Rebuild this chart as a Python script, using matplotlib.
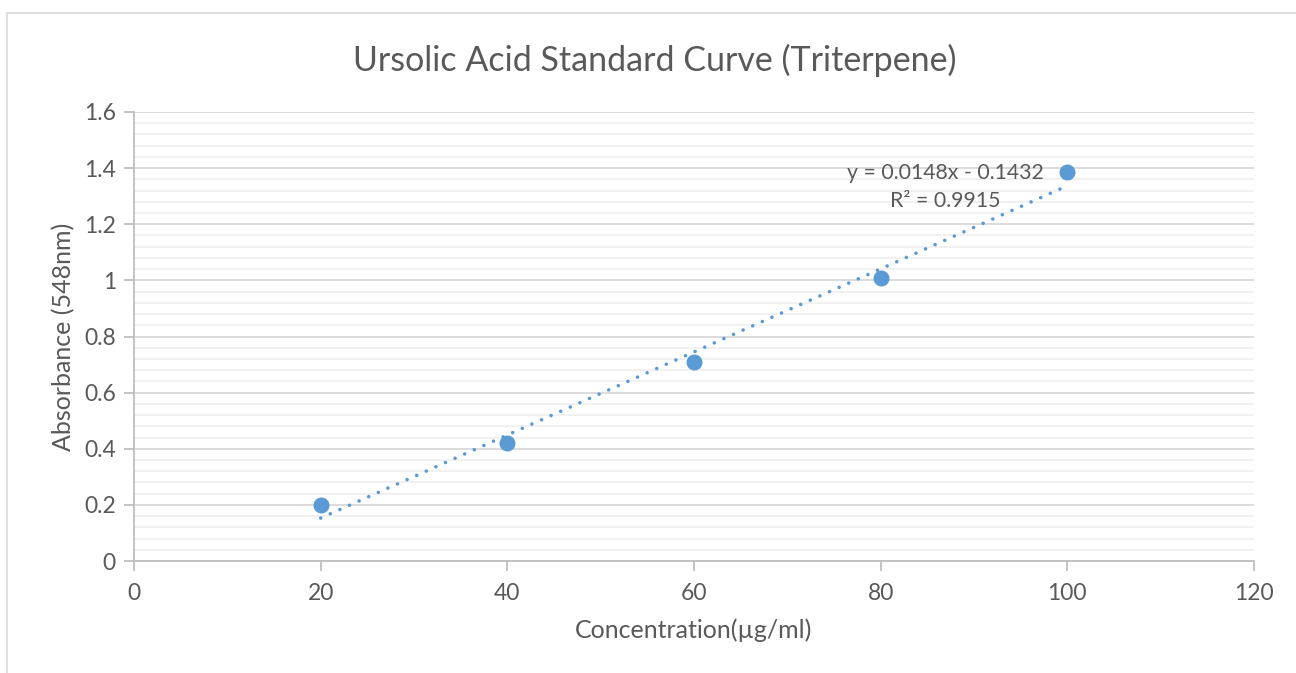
import matplotlib
matplotlib.use('Agg')
import matplotlib.pyplot as plt
import numpy as np
from matplotlib.patches import Rectangle
from matplotlib.ticker import MultipleLocator, FuncFormatter

plt.rcParams['font.family'] = ['Lato', 'DejaVu Sans']

concentration = [20, 40, 60, 80, 100]
absorbance = [0.2, 0.42, 0.71, 1.01, 1.385]

title = 'Ursolic Acid Standard Curve (Triterpene)'
xlabel = 'Concentration(µg/ml)'
ylabel = 'Absorbance (548nm)'
equation = 'y = 0.0148x - 0.1432'
r_squared = 'R² = 0.9915'

text_col = '#595959'
blue = '#5B9BD5'


def main():
    fig = plt.figure(figsize=(12.96, 6.73), dpi=100)
    ax = fig.add_axes([134 / 1296, 1 - 561 / 673, 1120 / 1296, 449 / 673])

    # chart border (cut off at right and bottom)
    fig.patches.append(Rectangle((7 / 1296, -0.05), 1.2, 1 - 13 / 673 + 0.05,
                                 transform=fig.transFigure, fill=False,
                                 edgecolor='#d9d9d9', linewidth=1.2))

    # linear trendline
    slope, intercept = np.polyfit(concentration, absorbance, 1)
    xs = np.array([concentration[0], concentration[-1]])
    ax.plot(xs, slope * xs + intercept, color=blue, linewidth=2.6,
            linestyle=(0, (0.01, 2.9)), dash_capstyle='round', zorder=3)

    ax.plot(concentration, absorbance, 'o', color=blue, markersize=10.5, zorder=4)

    ax.set_xlim(0, 120)
    ax.set_ylim(0, 1.6)
    ax.xaxis.set_major_locator(MultipleLocator(20))
    ax.yaxis.set_major_locator(MultipleLocator(0.2))
    ax.yaxis.set_minor_locator(MultipleLocator(0.04))
    ax.yaxis.set_major_formatter(FuncFormatter(lambda v, p: f'{round(v, 2):g}'))

    ax.grid(which='major', axis='y', color='#d9d9d9', linewidth=1.3)
    ax.grid(which='minor', axis='y', color='#f0f0f0', linewidth=1.3)
    ax.set_axisbelow(True)

    for s in ['top', 'right']:
        ax.spines[s].set_visible(False)
    for s in ['left', 'bottom']:
        ax.spines[s].set_color('#bfbfbf')
        ax.spines[s].set_linewidth(1.3)

    ax.tick_params(which='major', color='#bfbfbf', width=1.3, length=7,
                   labelcolor=text_col, labelsize=16.5)
    ax.tick_params(axis='x', pad=9)
    ax.tick_params(axis='y', pad=6)
    ax.tick_params(which='minor', length=0)

    ax.set_xlabel(xlabel, fontsize=18, color=text_col, labelpad=10)
    ax.set_ylabel(ylabel, fontsize=18, color=text_col, labelpad=6)
    fig.text(655 / 1296, 1 - 60 / 673, title, fontsize=24.5, color=text_col,
             ha='center', va='center')

    ax.text(86.9, 1.383, equation, fontsize=15.3, color=text_col,
            ha='center', va='center')
    ax.text(86.9, 1.283, r_squared, fontsize=15.3, color=text_col,
            ha='center', va='center')

    fig.savefig('out.png', dpi=100)


if __name__ == '__main__':
    main()
